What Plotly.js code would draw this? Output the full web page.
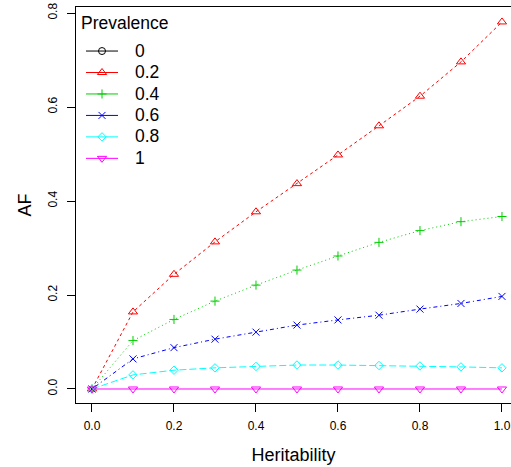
<!DOCTYPE html>
<html>
<head>
<meta charset="utf-8">
<script src="https://cdn.plot.ly/plotly-3.0.1.min.js"></script>
<style>html,body{margin:0;padding:0;background:#fff;}#chart{width:511px;height:467px;}</style>
</head>
<body>
<div id="chart"></div>
<script>
// Data
const heritability = [0, 0.1, 0.2, 0.3, 0.4, 0.5, 0.6, 0.7, 0.8, 0.9, 1.0];
const prevalenceLabels = ["0", "0.2", "0.4", "0.6", "0.8", "1"];
const af_0   = [null, null, null, null, null, null, null, null, null, null, null];
const af_0_2 = [0, 0.164, 0.244, 0.313, 0.377, 0.437, 0.498, 0.560, 0.623, 0.696, 0.781];
const af_0_4 = [0, 0.103, 0.148, 0.187, 0.221, 0.253, 0.283, 0.312, 0.337, 0.356, 0.367];
const af_0_6 = [0, 0.064, 0.088, 0.106, 0.121, 0.136, 0.147, 0.157, 0.170, 0.182, 0.197];
const af_0_8 = [0, 0.030, 0.040, 0.045, 0.048, 0.051, 0.051, 0.050, 0.049, 0.047, 0.045];
const af_1   = [0, 0, 0, 0, 0, 0, 0, 0, 0, 0, 0];
const xTicks = [0, 0.2, 0.4, 0.6, 0.8, 1.0];
const yTicks = [0, 0.2, 0.4, 0.6, 0.8];
const legendTitle = "Prevalence";
const xTitle = "Heritability";
const yTitle = "AF";

const seriesValues = [af_0, af_0_2, af_0_4, af_0_6, af_0_8, af_1];
const colors = ["#000000", "#FF0000", "#00CD00", "#0000FF", "#00FFFF", "#FF00FF"];
const symbols = ["circle-open", "triangle-up-open", "cross-thin-open", "x-thin-open", "diamond-open", "triangle-down-open"];
const dashes = ["solid", "3px,3px", "1px,3px", "1px,3px,4px,3px", "7px,3px", "solid"];
const msizes = [7, 8, 6.5, 7, 6.5, 8];

const font = "Liberation Sans, Arial, Helvetica, sans-serif";
const noValues = heritability.map(() => null);

const dataTraces = seriesValues.map((vals, i) => ({
  x: heritability,
  y: vals,
  type: "scatter",
  mode: "lines+markers",
  name: prevalenceLabels[i],
  showlegend: false,
  line: {color: colors[i], width: 1, dash: dashes[i]},
  marker: {symbol: symbols[i], size: msizes[i], color: colors[i], line: {color: colors[i], width: 1}},
  cliponaxis: false
}));
// legend entries: solid line + symbol, no drawn data
const legendTraces = prevalenceLabels.map((lab, i) => ({
  x: heritability,
  y: noValues,
  type: "scatter",
  mode: "lines+markers",
  name: '<span style="font-size:21.6px">\u00a0\u00a0</span><span style="font-size:17.5px">' + lab + '</span>',
  showlegend: true,
  line: {color: colors[i], width: 1, dash: "solid"},
  marker: {symbol: symbols[i], size: msizes[i], color: colors[i], line: {color: colors[i], width: 1}}
}));

const layout = {
  width: 511,
  height: 467,
  margin: {l: 76, r: 0, t: 7, b: 64, pad: 0},
  paper_bgcolor: "#ffffff",
  plot_bgcolor: "#ffffff",
  font: {family: font, color: "#000000", size: 12},
  showlegend: true,
  legend: {
    x: 0.0115, y: 0.9285, xanchor: "left", yanchor: "top",
    bgcolor: "rgba(0,0,0,0)",
    font: {family: font, size: 14.2, color: "#000"},
    itemwidth: 32,
    tracegroupgap: 0
  },
  annotations: [{
    text: legendTitle, xref: "paper", yref: "paper",
    x: 0.0069, y: 1 - 16.4 / 396, xanchor: "left", yanchor: "middle",
    showarrow: false, font: {family: font, size: 17.5, color: "#000"}
  }],
  xaxis: {
    range: [-0.039, 1.022],
    tickvals: xTicks,
    tickformat: ".1f",
    ticks: "outside", ticklen: 8, tickwidth: 1, tickcolor: "#000",
    ticklabelstandoff: 4,
    showline: true, mirror: true, linecolor: "#000", linewidth: 1,
    showgrid: false, zeroline: false,
    tickfont: {family: font, size: 12},
    title: {text: xTitle, font: {family: font, size: 18}, standoff: 15.5}
  },
  yaxis: {
    range: [-0.0298, 0.8128],
    tickvals: yTicks,
    tickformat: ".1f",
    tickangle: -90,
    ticks: "outside", ticklen: 8, tickwidth: 1, tickcolor: "#000",
    ticklabelstandoff: 5,
    showline: true, mirror: false, linecolor: "#000", linewidth: 1,
    showgrid: false, zeroline: false,
    tickfont: {family: font, size: 12},
    title: {text: yTitle, font: {family: font, size: 18}, standoff: 9}
  }
};

Plotly.newPlot("chart", dataTraces.concat(legendTraces), layout, {displayModeBar: false, staticPlot: true});
</script>
</body>
</html>
